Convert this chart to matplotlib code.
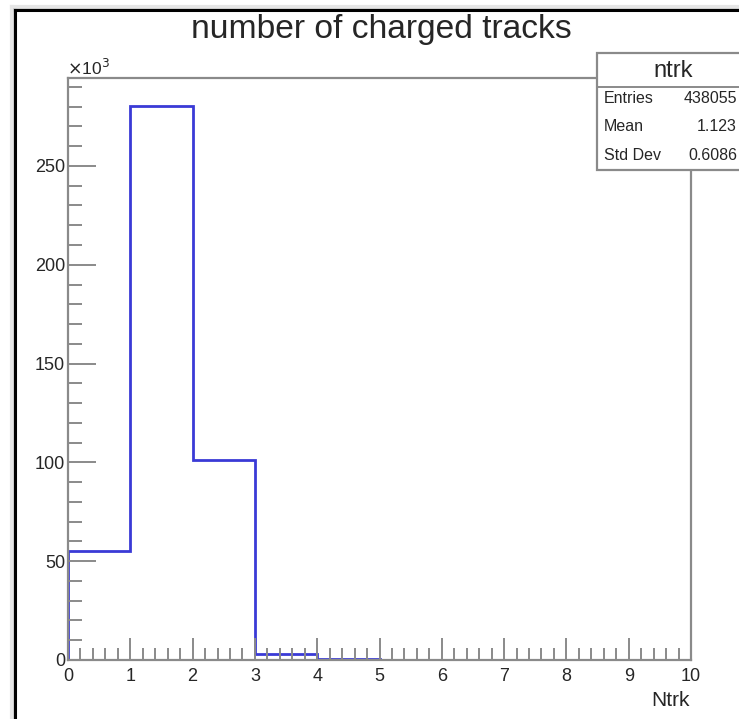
import matplotlib
matplotlib.use("Agg")
import matplotlib.pyplot as plt
from matplotlib.ticker import MultipleLocator, FuncFormatter
from matplotlib.patches import Rectangle
from matplotlib.lines import Line2D

plt.rcParams['font.family'] = ['Liberation Sans', 'DejaVu Sans']

# Data
bin_edges = [0, 1, 2, 3, 4, 5, 6, 7, 8, 9, 10]
counts = [55000, 280500, 101000, 3000, 600, 100, 0, 0, 0, 0]
title = "number of charged tracks"
xlabel = "Ntrk"
stats_name = "ntrk"
stats_labels = ["Entries", "Mean", "Std Dev"]
stats_values = ["438055", "1.123", "0.6086"]

W, H = 739, 719
fig = plt.figure(figsize=(W / 100, H / 100), dpi=100)
fig.patch.set_facecolor('white')

def fx(px):
    return px / W

def fy(py):
    return 1 - py / H

# canvas frame (black line with soft shadow)
for off, col, lw in [(-3, '#e6e6e6', 3), (-1.5, '#cfcfcf', 2)]:
    fig.add_artist(Line2D([fx(15 + off), fx(15 + off)], [fy(10 + off), 0], color=col, lw=lw, transform=fig.transFigure))
    fig.add_artist(Line2D([fx(15 + off), 1], [fy(10 + off), fy(10 + off)], color=col, lw=lw, transform=fig.transFigure))
fig.add_artist(Line2D([fx(15), fx(15)], [fy(10), 0], color='black', lw=2.2, transform=fig.transFigure))
fig.add_artist(Line2D([fx(15), 1], [fy(10), fy(10)], color='black', lw=2.2, transform=fig.transFigure))

ax = fig.add_axes([fx(68), fy(660), fx(691) - fx(68), fy(78) - fy(660)])
ax.stairs(counts, bin_edges, color='#3a3ad6', lw=2.0)
ax.set_xlim(0, 10)
ax.set_ylim(0, 294500)

ax.xaxis.set_major_locator(MultipleLocator(1))
ax.xaxis.set_minor_locator(MultipleLocator(0.2))
ax.yaxis.set_major_locator(MultipleLocator(50000))
ax.yaxis.set_minor_locator(MultipleLocator(10000))
ax.yaxis.set_major_formatter(FuncFormatter(lambda v, p: f"{v/1000:.0f}"))

axcol = '#8a8a8a'
txtcol = '#262626'
for s in ax.spines.values():
    s.set_color(axcol)
    s.set_linewidth(1.6)

ax.tick_params(axis='both', which='both', direction='in', color=axcol, width=1.4,
               labelcolor=txtcol, labelsize=13)
ax.tick_params(axis='x', which='major', length=16, pad=6)
ax.tick_params(axis='x', which='minor', length=9)
ax.tick_params(axis='y', which='major', length=20, pad=2)
ax.tick_params(axis='y', which='minor', length=10)
ax.tick_params(top=False, right=False, which='both')

# exponent label
fig.text(fx(67), fy(75), r"$\times$10$^3$", fontsize=12.5, color=txtcol, ha='left', va='baseline')

# title
fig.text(fx(381), fy(38), title, fontsize=24.2, color=txtcol, ha='center', va='baseline')

# x label
fig.text(fx(690), fy(706), xlabel, fontsize=15, color=txtcol, ha='right', va='baseline')

# stats box
bx0, by0, bx1, by1 = 597, 53, 752, 170
fig.add_artist(Rectangle((fx(bx0), fy(by1)), fx(bx1) - fx(bx0), fy(by0) - fy(by1),
                         transform=fig.transFigure, facecolor='white', edgecolor='#8a8a8a', lw=1.6, zorder=5))
fig.add_artist(Line2D([fx(bx0), fx(bx1)], [fy(87), fy(87)], color='#8a8a8a', lw=1.4,
                      transform=fig.transFigure, zorder=6))
fig.text(fx(673), fy(77), stats_name, fontsize=17, color=txtcol, ha='center', va='baseline', zorder=7)
rows_y = [103, 131, 160]
for lab, val, yy in zip(stats_labels, stats_values, rows_y):
    fig.text(fx(604), fy(yy), lab, fontsize=11.5, color=txtcol, ha='left', va='baseline', zorder=7)
    fig.text(fx(737), fy(yy), val, fontsize=11.5, color=txtcol, ha='right', va='baseline', zorder=7)

fig.savefig("out.png", dpi=100)
